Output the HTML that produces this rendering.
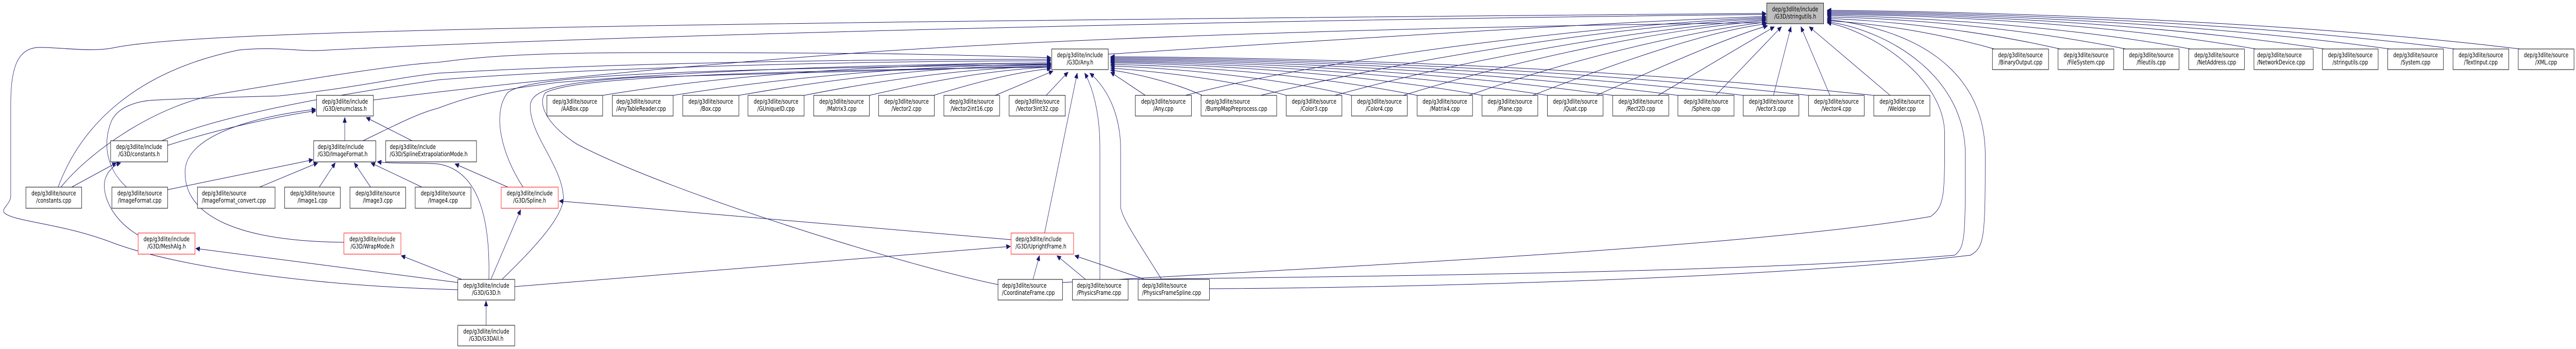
<!DOCTYPE html>
<html><head><meta charset="utf-8"><style>
html,body{margin:0;padding:0;background:#fff;width:100%;height:100%;overflow:hidden;}
svg{display:block;position:absolute;left:0;top:0;width:100vw;height:100vh;}
text{font-family:"DejaVu Sans","Liberation Sans",sans-serif;font-size:12px;fill:#000;}
.c{text-anchor:middle;}
.e{fill:none;stroke:#191970;stroke-width:1;marker-end:url(#a);}
.b{fill:#fff;stroke:#000;stroke-width:1;}
.r{fill:#fff;stroke:#ff0000;stroke-width:1;}
</style></head><body>
<svg viewBox="0 0 6471 677" preserveAspectRatio="none" xmlns="http://www.w3.org/2000/svg">
<defs><marker id="a" markerWidth="11" markerHeight="9" refX="10" refY="4.5" orient="auto" markerUnits="userSpaceOnUse"><path d="M0,0 L10,4.5 L0,9 z" fill="#191970" stroke="#191970"/></marker></defs>
<rect width="6471" height="677" fill="#fff"/>
<g>
<path class="e" d="M5010,95 C4850,60 4700,45 4590,40"/>
<path class="e" d="M5175,95 C4950,55 4700,38 4590,36"/>
<path class="e" d="M5340,95 C5050,50 4750,35 4590,33"/>
<path class="e" d="M5503,95 C5150,45 4750,32 4590,30"/>
<path class="e" d="M5667,95 C5250,40 4800,29 4590,28"/>
<path class="e" d="M5839,95 C5350,38 4800,27 4590,26"/>
<path class="e" d="M6003,95 C5450,36 4800,25 4590,24"/>
<path class="e" d="M6167,95 C5550,34 4800,23 4590,22"/>
<path class="e" d="M6331,95 C5650,32 4800,21 4590,20"/>
<path class="e" d="M4748,185 L4545,52"/>
<path class="e" d="M4597,185 L4524,52"/>
<path class="e" d="M4455,185 L4499,52"/>
<path class="e" d="M4310,185 L4475,52"/>
<path class="e" d="M4165,185 L4457,52"/>
<path class="e" d="M4010,185 C4200,120 4350,70 4440,50"/>
<path class="e" d="M3850,185 C4100,110 4300,60 4438,46"/>
<path class="e" d="M3690,185 C4000,100 4300,55 4436,43"/>
<path class="e" d="M3525,185 C3900,95 4250,52 4436,40"/>
<path class="e" d="M3353,185 C3800,90 4250,48 4436,38"/>
<path class="e" d="M3167,185 C3700,85 4200,45 4436,36"/>
<path class="e" d="M2978,185 C3400,100 4100,45 4436,34"/>
<path class="e" d="M2784,105 C3300,80 4100,40 4436,32"/>
<path class="e" d="M2669,548 C3300,520 4400,480 4850,420 C4885,400 4885,380 4885,260 C4885,150 4700,60 4590,44"/>
<path class="e" d="M2834,542 C3300,537 4400,530 4910,495 C4937,480 4937,460 4937,300 C4937,150 4750,60 4590,42"/>
<path class="e" d="M3038,560 C3400,559 4400,545 4950,495 C4985,480 4987,460 4987,300 C4987,130 4800,55 4590,38"/>
<path class="e" d="M1150,562 C800,555 450,520 280,470 C150,432 30,430 10,412 C3,405 27,395 27,380 L27,200 C27,130 45,92 100,92 C160,92 230,102 290,92 C500,60 1500,45 4436,26"/>
<path class="e" d="M146,363 C200,250 330,140 600,97 C700,90 750,100 800,98 C1500,70 3000,40 4436,28"/>
<path class="e" d="M153,363 C230,290 400,200 561,181 C800,150 1000,125 1100,121 C1300,100 1500,100 2200,104 C2400,106 2550,110 2640,112"/>
<path class="e" d="M407,273 C500,240 700,200 1100,155 C1500,130 2200,118 2640,118"/>
<path class="e" d="M318,363 C270,330 255,280 281,233 C300,205 350,195 393,194 C500,190 600,188 701,186 C900,170 1000,150 1100,142 C1600,120 2200,115 2640,115"/>
<path class="e" d="M912,273 C1000,240 1050,220 1100,210 C1200,180 1275,173 1400,160 C1800,135 2200,125 2640,122"/>
<path class="e" d="M938,194 C1100,178 1500,140 2200,100 C3000,60 4000,48 4436,44"/>
<path class="e" d="M421,282 C550,250 700,225 793,215"/>
<path class="e" d="M866,273 L866,228"/>
<path class="e" d="M1035,273 L920,228"/>
<path class="e" d="M864,470 C600,468 460,420 465,330 C470,260 650,225 793,212"/>
<path class="e" d="M180,363 L292,316"/>
<path class="e" d="M347,456 C290,430 262,390 262,360 C262,340 280,322 303,316"/>
<path class="e" d="M421,368 L786,310"/>
<path class="e" d="M652,363 L798,316"/>
<path class="e" d="M802,363 L842,316"/>
<path class="e" d="M931,363 L890,316"/>
<path class="e" d="M1060,363 L932,316"/>
<path class="e" d="M1228,542 C1232,420 1200,330 1100,318 C1040,315 990,318 948,314"/>
<path class="e" d="M1276,363 L1143,318"/>
<path class="e" d="M1233,542 L1308,407"/>
<path class="e" d="M1314,363 C1260,300 1235,220 1275,180 C1320,150 1600,135 2640,125"/>
<path class="e" d="M1261,542 C1330,490 1420,420 1415,380 C1410,320 1330,260 1332,205 C1333,175 1400,160 1600,150 C2000,140 2400,130 2640,128"/>
<path class="e" d="M2507,552 C2300,520 1700,380 1450,280 C1370,240 1350,200 1370,180 C1420,160 1600,140 2640,130"/>
<path class="e" d="M1221,631 L1221,584"/>
<path class="e" d="M1150,548 L492,482"/>
<path class="e" d="M1160,542 L1008,496"/>
<path class="e" d="M1293,556 C1700,530 2200,500 2538,478"/>
<path class="e" d="M2540,465 C2200,443 1800,415 1405,390"/>
<path class="e" d="M2624,452 L2706,142"/>
<path class="e" d="M2595,542 L2611,496"/>
<path class="e" d="M2727,542 L2655,496"/>
<path class="e" d="M2876,542 L2700,496"/>
<path class="e" d="M2763,542 L2763,285 C2763,220 2745,170 2725,142"/>
<path class="e" d="M2918,542 C2860,470 2815,420 2815,400 L2815,290 C2815,220 2780,170 2738,142"/>
<path class="e" d="M2628,185 L2683,140"/>
<path class="e" d="M2500,185 L2645,138"/>
<path class="e" d="M2345,185 C2450,160 2550,140 2640,133"/>
<path class="e" d="M2184,185 C2350,155 2500,135 2640,130"/>
<path class="e" d="M2020,185 C2250,150 2450,132 2640,128"/>
<path class="e" d="M1856,185 C2150,145 2400,128 2640,126"/>
<path class="e" d="M1691,185 C2050,140 2400,126 2640,124"/>
<path class="e" d="M1514,185 C1900,135 2350,124 2640,122"/>
<path class="e" d="M2877,185 L2790,140"/>
<path class="e" d="M3020,185 C2950,160 2850,142 2790,136"/>
<path class="e" d="M3231,185 C3100,155 2900,138 2790,132"/>
<path class="e" d="M3395,185 C3200,150 2950,132 2790,128"/>
<path class="e" d="M3560,185 C3300,145 3000,128 2790,125"/>
<path class="e" d="M3723,185 C3400,140 3000,124 2790,122"/>
<path class="e" d="M3887,185 C3500,138 3050,122 2790,120"/>
<path class="e" d="M4051,185 C3600,136 3100,120 2790,118"/>
<path class="e" d="M4215,185 C3700,134 3150,118 2790,116"/>
<path class="e" d="M4379,185 C3800,132 3200,116 2790,114"/>
<path class="e" d="M4543,185 C3900,130 3250,114 2790,112"/>
<path class="e" d="M4707,185 C4000,128 3300,112 2790,110"/>
</g>
<g>
<rect x="4438" y="6" width="143" height="40" fill="#bfbfbf" stroke="#000"/>
<text class="c" x="4509.5" y="22">dep/g3dlite/include</text><text class="c" x="4509.5" y="36">/G3D/stringutils.h</text>
<rect class="b" x="2642" y="95" width="142" height="40"/>
<text class="c" x="2713" y="111">dep/g3dlite/include</text><text class="c" x="2713" y="125">/G3D/Any.h</text>
<rect class="b" x="5005" y="95" width="141" height="40"/><text class="c" x="5075.5" y="111">dep/g3dlite/source</text><text class="c" x="5075.5" y="125">/BinaryOutput.cpp</text>
<rect class="b" x="5170" y="95" width="140" height="40"/><text class="c" x="5240" y="111">dep/g3dlite/source</text><text class="c" x="5240" y="125">/FileSystem.cpp</text>
<rect class="b" x="5334" y="95" width="140" height="40"/><text class="c" x="5404" y="111">dep/g3dlite/source</text><text class="c" x="5404" y="125">/fileutils.cpp</text>
<rect class="b" x="5498" y="95" width="140" height="40"/><text class="c" x="5568" y="111">dep/g3dlite/source</text><text class="c" x="5568" y="125">/NetAddress.cpp</text>
<rect class="b" x="5662" y="95" width="149" height="40"/><text x="5670" y="111">dep/g3dlite/source</text><text x="5670" y="125">/NetworkDevice.cpp</text>
<rect class="b" x="5834" y="95" width="140" height="40"/><text class="c" x="5904" y="111">dep/g3dlite/source</text><text class="c" x="5904" y="125">/stringutils.cpp</text>
<rect class="b" x="5998" y="95" width="140" height="40"/><text class="c" x="6068" y="111">dep/g3dlite/source</text><text class="c" x="6068" y="125">/System.cpp</text>
<rect class="b" x="6162" y="95" width="140" height="40"/><text class="c" x="6232" y="111">dep/g3dlite/source</text><text class="c" x="6232" y="125">/TextInput.cpp</text>
<rect class="b" x="6326" y="95" width="140" height="40"/><text class="c" x="6396" y="111">dep/g3dlite/source</text><text class="c" x="6396" y="125">/XML.cpp</text>
<rect class="b" x="795" y="185" width="143" height="40"/><text class="c" x="866.5" y="201">dep/g3dlite/include</text><text class="c" x="866.5" y="215">/G3D/enumclass.h</text>
<rect class="b" x="1374" y="185" width="140" height="40"/><text class="c" x="1444" y="201">dep/g3dlite/source</text><text class="c" x="1444" y="215">/AABox.cpp</text>
<rect class="b" x="1538" y="185" width="153" height="40"/><text x="1548" y="201">dep/g3dlite/source</text><text x="1548" y="215">/AnyTableReader.cpp</text>
<rect class="b" x="1715" y="185" width="141" height="40"/><text class="c" x="1785.5" y="201">dep/g3dlite/source</text><text class="c" x="1785.5" y="215">/Box.cpp</text>
<rect class="b" x="1879" y="185" width="141" height="40"/><text class="c" x="1949.5" y="201">dep/g3dlite/source</text><text class="c" x="1949.5" y="215">/GUniqueID.cpp</text>
<rect class="b" x="2044" y="185" width="140" height="40"/><text class="c" x="2114" y="201">dep/g3dlite/source</text><text class="c" x="2114" y="215">/Matrix3.cpp</text>
<rect class="b" x="2207" y="185" width="140" height="40"/><text class="c" x="2277" y="201">dep/g3dlite/source</text><text class="c" x="2277" y="215">/Vector2.cpp</text>
<rect class="b" x="2371" y="185" width="140" height="40"/><text class="c" x="2441" y="201">dep/g3dlite/source</text><text class="c" x="2441" y="215">/Vector2int16.cpp</text>
<rect class="b" x="2535" y="185" width="141" height="40"/><text class="c" x="2605.5" y="201">dep/g3dlite/source</text><text class="c" x="2605.5" y="215">/Vector3int32.cpp</text>
<rect class="b" x="2852" y="185" width="141" height="40"/><text class="c" x="2922.5" y="201">dep/g3dlite/source</text><text class="c" x="2922.5" y="215">/Any.cpp</text>
<rect class="b" x="3017" y="185" width="190" height="40"/><text x="3028" y="201">dep/g3dlite/source</text><text x="3028" y="215">/BumpMapPreprocess.cpp</text>
<rect class="b" x="3231" y="185" width="140" height="40"/><text class="c" x="3301" y="201">dep/g3dlite/source</text><text class="c" x="3301" y="215">/Color3.cpp</text>
<rect class="b" x="3395" y="185" width="140" height="40"/><text class="c" x="3465" y="201">dep/g3dlite/source</text><text class="c" x="3465" y="215">/Color4.cpp</text>
<rect class="b" x="3560" y="185" width="139" height="40"/><text class="c" x="3629.5" y="201">dep/g3dlite/source</text><text class="c" x="3629.5" y="215">/Matrix4.cpp</text>
<rect class="b" x="3723" y="185" width="140" height="40"/><text class="c" x="3793" y="201">dep/g3dlite/source</text><text class="c" x="3793" y="215">/Plane.cpp</text>
<rect class="b" x="3887" y="185" width="140" height="40"/><text class="c" x="3957" y="201">dep/g3dlite/source</text><text class="c" x="3957" y="215">/Quat.cpp</text>
<rect class="b" x="4051" y="185" width="141" height="40"/><text class="c" x="4121.5" y="201">dep/g3dlite/source</text><text class="c" x="4121.5" y="215">/Rect2D.cpp</text>
<rect class="b" x="4215" y="185" width="141" height="40"/><text class="c" x="4285.5" y="201">dep/g3dlite/source</text><text class="c" x="4285.5" y="215">/Sphere.cpp</text>
<rect class="b" x="4379" y="185" width="140" height="40"/><text class="c" x="4449" y="201">dep/g3dlite/source</text><text class="c" x="4449" y="215">/Vector3.cpp</text>
<rect class="b" x="4543" y="185" width="140" height="40"/><text class="c" x="4613" y="201">dep/g3dlite/source</text><text class="c" x="4613" y="215">/Vector4.cpp</text>
<rect class="b" x="4707" y="185" width="141" height="40"/><text class="c" x="4777.5" y="201">dep/g3dlite/source</text><text class="c" x="4777.5" y="215">/Welder.cpp</text>
<rect class="b" x="278" y="273" width="143" height="41"/><text class="c" x="349.5" y="289">dep/g3dlite/include</text><text class="c" x="349.5" y="303">/G3D/constants.h</text>
<rect class="b" x="788" y="273" width="156" height="41"/><text x="798" y="289">dep/g3dlite/include</text><text x="798" y="303">/G3D/ImageFormat.h</text>
<rect class="b" x="969" y="273" width="228" height="41"/><text x="979" y="289">dep/g3dlite/include</text><text x="979" y="303">/G3D/SplineExtrapolationMode.h</text>
<rect class="b" x="65" y="363" width="140" height="41"/><text class="c" x="135" y="379">dep/g3dlite/source</text><text class="c" x="135" y="393">/constants.cpp</text>
<rect class="b" x="281" y="363" width="140" height="41"/><text class="c" x="351" y="379">dep/g3dlite/source</text><text class="c" x="351" y="393">/ImageFormat.cpp</text>
<rect class="b" x="496" y="363" width="195" height="41"/><text x="507" y="379">dep/g3dlite/source</text><text x="507" y="393">/ImageFormat_convert.cpp</text>
<rect class="b" x="715" y="363" width="140" height="41"/><text class="c" x="785" y="379">dep/g3dlite/source</text><text class="c" x="785" y="393">/Image1.cpp</text>
<rect class="b" x="879" y="363" width="140" height="41"/><text class="c" x="949" y="379">dep/g3dlite/source</text><text class="c" x="949" y="393">/Image3.cpp</text>
<rect class="b" x="1043" y="363" width="140" height="41"/><text class="c" x="1113" y="379">dep/g3dlite/source</text><text class="c" x="1113" y="393">/Image4.cpp</text>
<rect class="r" x="1259" y="363" width="143" height="41"/><text class="c" x="1330.5" y="379">dep/g3dlite/include</text><text class="c" x="1330.5" y="393">/G3D/Spline.h</text>
<rect class="r" x="347" y="452" width="143" height="41"/><text class="c" x="418.5" y="468">dep/g3dlite/include</text><text class="c" x="418.5" y="482">/G3D/MeshAlg.h</text>
<rect class="r" x="864" y="452" width="143" height="41"/><text class="c" x="935.5" y="468">dep/g3dlite/include</text><text class="c" x="935.5" y="482">/G3D/WrapMode.h</text>
<rect class="r" x="2540" y="452" width="157" height="41"/><text x="2551" y="468">dep/g3dlite/include</text><text x="2551" y="482">/G3D/UprightFrame.h</text>
<rect class="b" x="1150" y="542" width="143" height="40"/><text class="c" x="1221.5" y="558">dep/g3dlite/include</text><text class="c" x="1221.5" y="572">/G3D/G3D.h</text>
<rect class="b" x="2507" y="542" width="162" height="40"/><text x="2517" y="558">dep/g3dlite/source</text><text x="2517" y="572">/CoordinateFrame.cpp</text>
<rect class="b" x="2694" y="542" width="140" height="40"/><text x="2705" y="558">dep/g3dlite/source</text><text x="2705" y="572">/PhysicsFrame.cpp</text>
<rect class="b" x="2859" y="542" width="179" height="40"/><text x="2869" y="558">dep/g3dlite/source</text><text x="2869" y="572">/PhysicsFrameSpline.cpp</text>
<rect class="b" x="1150" y="631" width="143" height="40"/><text class="c" x="1221.5" y="647">dep/g3dlite/include</text><text class="c" x="1221.5" y="661">/G3D/G3DAll.h</text>
</g>
</svg>
</body></html>
